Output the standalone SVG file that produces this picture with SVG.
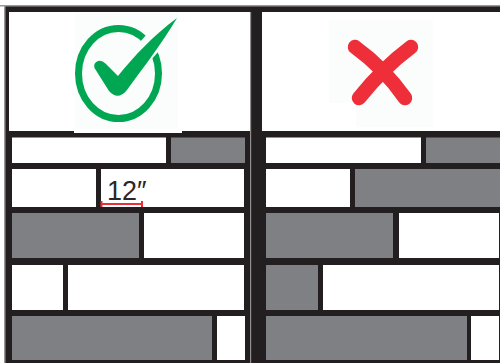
<svg xmlns="http://www.w3.org/2000/svg" width="500" height="363" viewBox="0 0 500 363">
<style>
.w{fill:#fff}
.g{fill:#7e8083}
.soft{fill:#fbfcfc}
.dim{stroke:#ed2e38;stroke-width:2;fill:none}
text{font-family:"Liberation Sans",Arial,sans-serif;fill:#2b2728}
</style>
<rect width="500" height="363" fill="#fff"/>
<rect x="4" y="6" width="496" height="357" fill="#231f20"/>
<rect x="4" y="6" width="1.500" height="357" fill="#9a9899"/>
<rect x="0" y="5" width="500" height="1.500" fill="#9a9899"/>
<g id="panel-left-head">
<rect class="w" x="9" y="12" width="241" height="119"/>
<rect class="w" x="74" y="13" width="108" height="120"/>
<rect class="soft" x="75" y="13" width="103" height="116"/>
</g>
<rect x="250" y="12" width="1.200" height="351" fill="#8e8c8d"/>
<g id="panel-right-head">
<rect class="w" x="262" y="12" width="238" height="119"/>
<rect class="soft" x="329" y="20" width="104" height="83"/>
<rect class="soft" x="356" y="100" width="77" height="27"/>
</g>
<g id="check-icon">
<ellipse cx="118.500" cy="73.500" rx="40" ry="45" fill="none" stroke="#00a651" stroke-width="7"/>
<path d="M118 82L172 21" fill="none" stroke="#fbfcfc" stroke-width="20"/>
<path d="M94.500 68Q93 63 98 61Q102 60 106 64L118 76C134 56 154 35 177 18C163 42 143 68 127 90Q118 101 109 91Z" fill="#00a651"/>
</g>
<g id="cross-icon" fill="none" stroke="#ee2f3a" stroke-width="14.500" stroke-linecap="round">
<path d="M355 47Q384 68 405 98"/>
<path d="M411 47Q383 68 359 98"/>
</g>
<g id="bricks-left">
<rect class="w" x="12" y="137.500" width="154" height="25.500"/>
<rect class="g" x="171" y="137.500" width="74" height="25.500"/>
<rect class="w" x="12" y="169" width="84" height="38"/>
<rect class="w" x="101" y="169" width="143" height="38"/>
<rect class="g" x="12" y="213" width="127" height="45"/>
<rect class="w" x="144" y="213" width="100" height="45"/>
<rect class="w" x="12" y="265" width="51" height="45"/>
<rect class="w" x="68" y="265" width="176" height="45"/>
<rect class="g" x="12" y="316" width="200" height="44"/>
<rect class="w" x="217" y="316" width="28" height="44"/>
</g>
<g id="bricks-right">
<rect class="w" x="266" y="137.500" width="155" height="25.500"/>
<rect class="g" x="426" y="137.500" width="74" height="25.500"/>
<rect class="w" x="266" y="169" width="84" height="38"/>
<rect class="g" x="355" y="169" width="145" height="38"/>
<rect class="g" x="266" y="213" width="127" height="45"/>
<rect class="w" x="399" y="213" width="100" height="45"/>
<rect class="g" x="266" y="265" width="52" height="45"/>
<rect class="w" x="323" y="265" width="176" height="45"/>
<rect class="g" x="266" y="316" width="201" height="44"/>
<rect class="w" x="471" y="316" width="28" height="44"/>
</g>
<g id="dimension">
<path class="dim" d="M101.500 204H142M101.500 201V207M142 201V207"/>
<text x="107" y="200" font-size="27">12″</text>
</g>
</svg>
